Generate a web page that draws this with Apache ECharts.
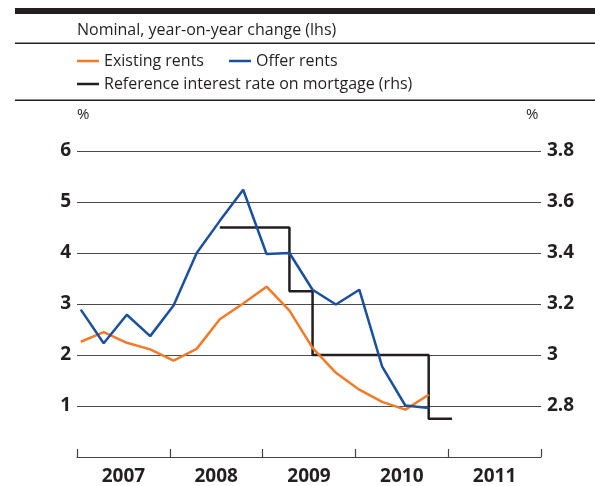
<!DOCTYPE html>
<html>
<head>
<meta charset="utf-8">
<script src="https://cdn.jsdelivr.net/npm/echarts@6/dist/echarts.min.js"></script>
<style>
  html, body { margin: 0; padding: 0; background: #fff; }
  #chart { width: 595px; height: 486px; }
</style>
</head>
<body>
<div id="chart"></div>
<script>
// Quarterly observations (dated mid-month of each quarter's first month)
const quarterDates = [
  '2007-01-16', '2007-04-16', '2007-07-16', '2007-10-16',
  '2008-01-16', '2008-04-16', '2008-07-16', '2008-10-16',
  '2009-01-16', '2009-04-16', '2009-07-16', '2009-10-16',
  '2010-01-16', '2010-04-16', '2010-07-16', '2010-10-16'
];
// Nominal, year-on-year change, %
const existingRents = [2.26, 2.45, 2.24, 2.11, 1.89, 2.12, 2.70, 3.01, 3.34, 2.87, 2.14, 1.65, 1.32, 1.08, 0.93, 1.22];
const offerRents    = [2.89, 2.23, 2.79, 2.37, 2.97, 4.00, 4.63, 5.24, 3.98, 4.00, 3.28, 2.99, 3.28, 1.77, 1.01, 0.96];

// Reference interest rate on mortgages, % (rhs)
const refRateDates = ['2008-07-16', '2008-10-16', '2009-01-16', '2009-04-16', '2009-07-16',
                      '2009-10-16', '2010-01-16', '2010-04-16', '2010-07-16', '2010-10-16', '2011-01-16'];
const refRate      = [3.5, 3.5, 3.5, 3.25, 3.0, 3.0, 3.0, 3.0, 3.0, 2.75, 2.75];

const years = ['2007', '2008', '2009', '2010', '2011'];

const seriesNames = {
  existing: 'Existing rents',
  offer: 'Offer rents',
  rate: 'Reference interest rate on mortgage (rhs)'
};
const colors = { existing: '#f37a26', offer: '#1b4f9f', rate: '#231f20' };

const textFont = '"Open Sans", "Liberation Sans", sans-serif';
const ink = '#231f20';

const pair = (xs, ys) => xs.map((d, i) => [d, ys[i]]);

const chart = echarts.init(document.getElementById('chart'), null, { renderer: 'canvas' });

chart.setOption({
  animation: false,
  backgroundColor: '#ffffff',
  textStyle: { fontFamily: textFont, color: ink },
  grid: { left: 77, right: 54, top: 151, bottom: 25, containLabel: false },
  legend: [
    {
      data: [seriesNames.existing, seriesNames.offer],
      left: 77, top: 53, padding: 0,
      itemWidth: 22, itemHeight: 2.5, itemGap: 25,
      icon: 'rect',
      textStyle: { fontFamily: textFont, fontSize: 16, color: ink }
    },
    {
      data: [seriesNames.rate],
      left: 77, top: 76, padding: 0,
      itemWidth: 22, itemHeight: 2.5,
      icon: 'rect',
      textStyle: { fontFamily: textFont, fontSize: 16, color: ink }
    }
  ],
  graphic: [
    { type: 'rect', shape: { x: 15, y: 8, width: 580, height: 6 }, style: { fill: ink } },
    { type: 'rect', shape: { x: 15, y: 42.5, width: 580, height: 1.5 }, style: { fill: ink } },
    { type: 'rect', shape: { x: 15, y: 99.5, width: 580, height: 1.5 }, style: { fill: ink } },
    {
      type: 'text', left: 77, top: 22,
      style: { text: 'Nominal, year-on-year change (lhs)', fontFamily: textFont, fontSize: 16, fill: ink }
    },
    {
      type: 'text', left: 77, top: 107,
      style: { text: '%', fontFamily: textFont, fontSize: 15, fill: ink }
    },
    {
      type: 'text', left: 526, top: 107,
      style: { text: '%', fontFamily: textFont, fontSize: 15, fill: ink }
    }
  ],
  xAxis: [
    {
      type: 'category',
      data: years,
      position: 'bottom',
      boundaryGap: true,
      axisLine: { show: true, lineStyle: { color: '#444', width: 1.2 } },
      axisTick: { show: true, inside: true, length: 8, alignWithLabel: false, lineStyle: { color: '#444', width: 1.2 } },
      axisLabel: { fontFamily: textFont, fontWeight: 'bold', fontSize: 19, color: ink, margin: 10 },
      splitLine: { show: false }
    },
    {
      type: 'time',
      min: '2007-01-01',
      max: '2012-01-01',
      show: false
    }
  ],
  yAxis: [
    {
      type: 'value',
      min: 0, max: 6, interval: 1,
      axisLine: { show: false },
      axisTick: { show: false },
      axisLabel: {
        showMinLabel: false,
        fontFamily: textFont, fontWeight: 'bold', fontSize: 19, color: ink, margin: 6
      },
      splitLine: { show: true, lineStyle: { color: '#4a4a4a', width: 1.2 } }
    },
    {
      type: 'value',
      min: 2.6, max: 3.8, interval: 0.2,
      position: 'right',
      axisLine: { show: false },
      axisTick: { show: false },
      axisLabel: {
        showMinLabel: false,
        fontFamily: textFont, fontWeight: 'bold', fontSize: 19, color: ink, margin: 6,
        formatter: v => String(Math.round(v * 10) / 10)
      },
      splitLine: { show: false }
    }
  ],
  series: [
    {
      name: seriesNames.existing,
      type: 'line',
      xAxisIndex: 1, yAxisIndex: 0,
      data: pair(quarterDates, existingRents),
      showSymbol: false,
      lineStyle: { color: colors.existing, width: 2.5 },
      itemStyle: { color: colors.existing },
      z: 3
    },
    {
      name: seriesNames.offer,
      type: 'line',
      xAxisIndex: 1, yAxisIndex: 0,
      data: pair(quarterDates, offerRents),
      showSymbol: false,
      lineStyle: { color: colors.offer, width: 2.5 },
      itemStyle: { color: colors.offer },
      z: 4
    },
    {
      name: seriesNames.rate,
      type: 'line',
      step: 'end',
      xAxisIndex: 1, yAxisIndex: 1,
      data: pair(refRateDates, refRate),
      showSymbol: false,
      lineStyle: { color: colors.rate, width: 2.5 },
      itemStyle: { color: colors.rate },
      z: 2
    }
  ]
});
</script>
</body>
</html>
